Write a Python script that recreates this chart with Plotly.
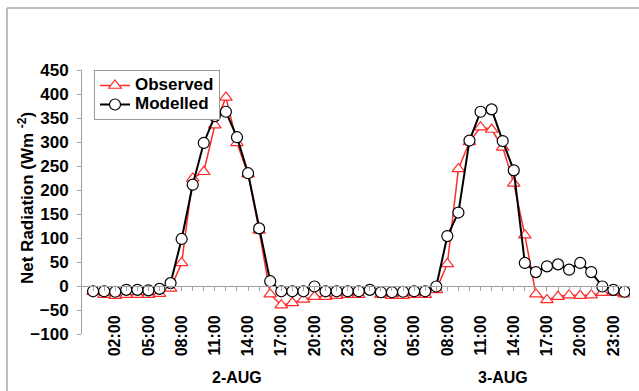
import plotly.graph_objects as go

# ---- data -------------------------------------------------------------
hours = list(range(49))  # hourly steps from 2-AUG 00:00 to 4-AUG 00:00

observed = [-12, -18, -20, -18, -18, -18, -16, -5, 48, 224, 238, 335,
            393, 298, 233, 116, -17, -40, -35, -28, -22, -22, -20, -18,
            -18, -8, -18, -20, -20, -18, -18, -8, 46, 244, 300, 331,
            326, 289, 214, 106, -17, -29, -22, -19, -20, -19, -14, -14, -17]

modelled = [-11, -11, -12, -8, -8, -9, -6, 6, 98, 211, 298, 354,
            363, 310, 235, 120, 10, -11, -11, -11, -1, -11, -11, -11,
            -11, -8, -13, -13, -12, -11, -11, -1, 104, 153, 303, 363,
            368, 302, 241, 48, 29, 41, 45, 34, 48, 29, -1, -8, -12]

tick_hours = [2, 5, 8, 11, 14, 17, 20, 23, 26, 29, 32, 35, 38, 41, 44, 47]
tick_labels = ["02:00", "05:00", "08:00", "11:00", "14:00", "17:00", "20:00", "23:00",
               "02:00", "05:00", "08:00", "11:00", "14:00", "17:00", "20:00", "23:00"]
day_labels = ["2-AUG", "3-AUG"]
day_label_pos = [13, 37]
series_names = ["Observed", "Modelled"]
y_title = "Net Radiation (Wm <sup>-2</sup>)"

# ---- layout geometry -------------------------------------------------
W, H = 639, 391
ML, MR, MT, MB = 82, 9, 70, 57
PW, PH = W - ML - MR, H - MT - MB
YMIN, YMAX = -100, 450
GRAY = "#A0A0A0"
RED = "#FF2A2A"
FONT = "Liberation Sans"


def px_x(p):
    return (p - ML) / PW


def px_y(p):
    return (H - MB - p) / PH


def legend_label(s):
    return "<span style='font-size:17px'>%s</span>" % s


fig = go.Figure()
fig.add_trace(go.Scatter(
    x=hours, y=observed, name=legend_label(series_names[0]), mode="lines+markers",
    line=dict(color=RED, width=1.5),
    marker=dict(symbol="triangle-up", size=11, color="white",
                line=dict(color=RED, width=1.2)),
))
fig.add_trace(go.Scatter(
    x=hours, y=modelled, name=legend_label(series_names[1]), mode="lines+markers",
    line=dict(color="black", width=2),
    marker=dict(symbol="circle", size=11, color="white",
                line=dict(color="black", width=1.2)),
))

fig.update_layout(
    width=W, height=H,
    margin=dict(l=ML, r=MR, t=MT, b=MB, autoexpand=False),
    paper_bgcolor="white", plot_bgcolor="white",
    font=dict(family=FONT, color="black"),
    showlegend=True,
    legend=dict(
        x=px_x(94), y=px_y(70), xanchor="left", yanchor="top",
        bordercolor="#9A9A9A", borderwidth=1, bgcolor="white",
        font=dict(family=FONT, size=12, weight="bold"),
        itemwidth=30, tracegroupgap=0,
    ),
    xaxis=dict(
        range=[-1, 48.5], anchor="free", position=(0 - YMIN) / (YMAX - YMIN),
        automargin=False,
        showgrid=False, zeroline=False,
        showline=True, linecolor=GRAY, linewidth=1,
        tickmode="array", tickvals=tick_hours, ticktext=tick_labels,
        tickangle=-90, ticks="outside", ticklen=4, tickcolor=GRAY,
        minor=dict(tickmode="array", tickvals=hours, ticks="outside",
                   ticklen=4, tickcolor=GRAY),
        ticklabelstandoff=18,
        tickfont=dict(family=FONT, size=16, weight="bold"),
    ),
    yaxis=dict(
        range=[YMIN, YMAX], dtick=50, tick0=0, automargin=False,
        showgrid=False, zeroline=False,
        showline=True, linecolor=GRAY, linewidth=1,
        ticks="outside", ticklen=4, tickcolor=GRAY,
        ticklabelstandoff=5,
        tickfont=dict(family=FONT, size=17, weight="bold"),
    ),
)

# y-axis title
fig.add_annotation(
    x=px_x(26), xref="paper", y=px_y(198), yref="paper",
    text=y_title, textangle=-90, showarrow=False,
    xanchor="center", yanchor="middle",
    font=dict(family=FONT, size=17, weight="bold"),
)

for lab, pos in zip(day_labels, day_label_pos):
    fig.add_annotation(
        x=pos, xref="x", y=px_y(377), yref="paper",
        text=lab, showarrow=False, xanchor="center", yanchor="middle",
        font=dict(family=FONT, size=16, weight="bold"),
    )

# outer chart frame (only the left and top edges are visible in the image)
fig.add_shape(type="line", xref="paper", yref="paper",
              x0=px_x(7), x1=px_x(7), y0=px_y(8), y1=px_y(H + 5),
              line=dict(color="#A8A8A8", width=1.5))
fig.add_shape(type="line", xref="paper", yref="paper",
              x0=px_x(7), x1=px_x(W + 5), y0=px_y(8), y1=px_y(8),
              line=dict(color="#A8A8A8", width=1.5))

fig.write_html("out.html", config={"displayModeBar": False},
               post_script="document.body.style.margin='0';document.body.style.overflow='hidden';")
